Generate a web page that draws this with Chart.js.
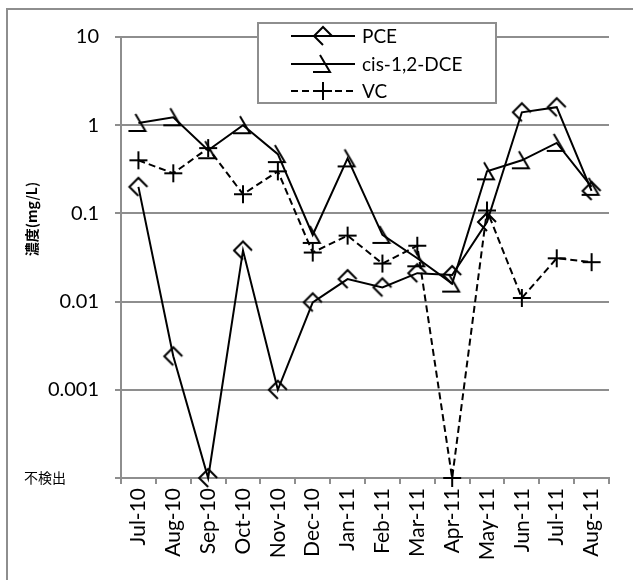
<!DOCTYPE html>
<html>
<head>
<meta charset="utf-8">
<script src="https://cdn.jsdelivr.net/npm/chart.js@4/dist/chart.umd.min.js"></script>
<style>
  html, body { margin: 0; padding: 0; background: #fff; }
  #wrap { width: 633px; height: 580px; position: relative; }
</style>
</head>
<body>
<div id="wrap"><canvas id="c" width="633" height="580"></canvas></div>
<script>
// Monthly sampling dates
const months = ['Jul-10','Aug-10','Sep-10','Oct-10','Nov-10','Dec-10','Jan-11',
                'Feb-11','Mar-11','Apr-11','May-11','Jun-11','Jul-11','Aug-11'];

// Value used to plot "not detected" results (bottom of the axis)
const ND = 0.0001;

// Concentrations in mg/L
const pce = [0.2, 0.0024, ND, 0.038, 0.001, 0.0098, 0.018, 0.0145, 0.021, 0.02, 0.08, 1.4, 1.6, 0.18];
const dce = [1.06, 1.23, 0.52, 1.0, 0.47, 0.057, 0.42, 0.057, 0.031, 0.016, 0.3, 0.4, 0.63, 0.2];
const vc  = [0.4, 0.285, 0.55, 0.165, 0.3, 0.036, 0.056, 0.027, 0.043, ND, 0.108, 0.011, 0.031, 0.028];

const seriesNames = ['PCE', 'cis-1,2-DCE', 'VC'];

// Y axis decades and their labels
const yTickValues = [0.0001, 0.001, 0.01, 0.1, 1, 10];
const yTickLabels = ['不検出', '0.001', '0.01', '0.1', '1', '10'];
const yTitle = '濃度(mg/L)';

const FONT = 'Lato, "Noto Sans", sans-serif';
const CJK = '"Noto Sans CJK JP", sans-serif';
const GRID = '#8e8e8e';

// Open line-art markers
function makeMarker(draw) {
  const c = document.createElement('canvas');
  c.width = 26; c.height = 26;
  const g = c.getContext('2d');
  g.translate(13, 13);
  g.strokeStyle = '#000';
  g.lineWidth = 2;
  g.lineCap = 'butt';
  g.beginPath();
  draw(g);
  g.stroke();
  return c;
}
const mkPCE = makeMarker(g => { g.moveTo(9, 0); g.lineTo(0, -9); g.lineTo(-9, 0); g.lineTo(0, 9); });
const mkDCE = makeMarker(g => { g.moveTo(-3, -9); g.lineTo(7, 8); g.lineTo(-10, 8); });
const mkVC  = makeMarker(g => { g.moveTo(-9, 0); g.lineTo(9, 0); g.moveTo(0, -9); g.lineTo(0, 9); });
const markers = [mkPCE, mkDCE, mkVC];
const dashes = [[], [], [7, 4]];

// Legend box, y-axis title, "not detected" label and outer frame
const decor = {
  id: 'decor',
  afterDraw(chart) {
    const ctx = chart.ctx;
    ctx.save();
    // outer frame
    ctx.strokeStyle = GRID;
    ctx.lineWidth = 2;
    ctx.beginPath();
    ctx.moveTo(7, 580); ctx.lineTo(7, 9); ctx.lineTo(633, 9);
    ctx.stroke();

    // label of the lowest decade, set further left than the numbers
    const yND = chart.scales.y.getPixelForValue(yTickValues[0]);
    ctx.fillStyle = '#000';
    ctx.font = '14px ' + CJK;
    ctx.textAlign = 'left';
    ctx.textBaseline = 'middle';
    ctx.fillText(yTickLabels[0], 24, yND);

    // y-axis title
    ctx.font = 'bold 14px ' + CJK;
    ctx.textAlign = 'center';
    ctx.translate(32, 219);
    ctx.rotate(-Math.PI / 2);
    ctx.fillText(yTitle, 0, 0);
    ctx.setTransform(1, 0, 0, 1, 0, 0);

    // legend
    const bx = 258, by = 23, bw = 238, bh = 80;
    ctx.fillStyle = '#fff';
    ctx.fillRect(bx, by, bw, bh);
    ctx.strokeStyle = GRID;
    ctx.lineWidth = 2;
    ctx.strokeRect(bx, by, bw, bh);
    const rows = [36, 64, 91];
    chart.data.datasets.forEach((ds, i) => {
      const y = rows[i];
      ctx.strokeStyle = '#000';
      ctx.lineWidth = 2;
      ctx.setLineDash(dashes[i]);
      ctx.beginPath();
      ctx.moveTo(291, y); ctx.lineTo(355, y);
      ctx.stroke();
      ctx.setLineDash([]);
      const m = markers[i];
      ctx.drawImage(m, 323 - m.width / 2, y - m.height / 2);
      ctx.fillStyle = '#000';
      ctx.font = '19px ' + FONT;
      ctx.textAlign = 'left';
      ctx.textBaseline = 'middle';
      ctx.fillText(ds.label, 362, y + 1);
    });
    ctx.restore();
  }
};

const datasets = [pce, dce, vc].map((vals, i) => ({
  label: seriesNames[i],
  data: vals,
  borderColor: '#000',
  backgroundColor: '#000',
  borderWidth: 2,
  borderDash: dashes[i],
  pointStyle: markers[i],
  pointRadius: 9,
  tension: 0,
  fill: false,
  clip: false
}));

new Chart(document.getElementById('c'), {
  type: 'line',
  data: { labels: months, datasets },
  options: {
    responsive: false,
    animation: false,
    layout: { padding: { left: 0, top: 37, right: 24, bottom: 0 } },
    plugins: { legend: { display: false }, tooltip: { enabled: false } },
    scales: {
      x: {
        offset: true,
        grid: { offset: true, drawOnChartArea: false, drawTicks: true, tickLength: 6, color: GRID, lineWidth: 2 },
        border: { color: GRID, width: 2 },
        ticks: { maxRotation: 90, minRotation: 90, padding: 4, color: '#000', font: { family: FONT, size: 21 } },
        afterFit(s) { s.height = 102; }
      },
      y: {
        type: 'logarithmic',
        min: yTickValues[0],
        max: yTickValues[yTickValues.length - 1],
        afterBuildTicks(s) { s.ticks = yTickValues.map(v => ({ value: v })); },
        grid: { color: GRID, lineWidth: 2, tickLength: 6 },
        border: { color: GRID, width: 2 },
        ticks: {
          padding: 16,
          color: '#000',
          font: { family: FONT, size: 20 },
          callback: (v) => {
            const idx = yTickValues.findIndex(t => Math.abs(t - v) / t < 1e-6);
            // the lowest decade's label is drawn by the decor plugin
            return idx > 0 ? yTickLabels[idx] : '';
          }
        },
        afterFit(s) { s.width = 121; }
      }
    }
  },
  plugins: [decor]
});
</script>
</body>
</html>
